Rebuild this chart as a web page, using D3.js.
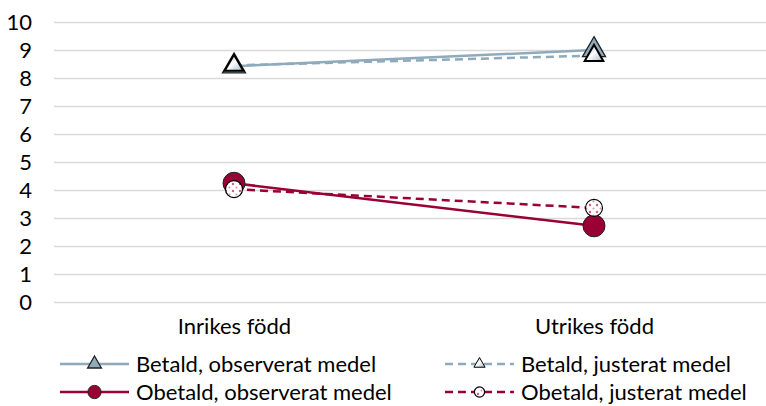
<!doctype html>
<html lang='sv'>
<head>
<meta charset='UTF-8'>
<title>Betald / obetald</title>
<script src='https://cdn.jsdelivr.net/npm/d3@7'></script>
<style>
  body { margin: 0; background: #fff; }
  text { font-family: Lato, 'Open Sans', sans-serif; fill: #000; }
</style>
</head>
<body>
<div id='chart'></div>
<script>
// kategorier och värden
const categories = ['Inrikes född', 'Utrikes född'];
const betaldObs = [8.42, 9.0];
const betaldJust = [8.45, 8.8];
const obetaldObs = [4.24, 2.72];
const obetaldJust = [4.03, 3.36];
const yTicks = [0, 1, 2, 3, 4, 5, 6, 7, 8, 9, 10];

const W = 766, H = 406;
const M = { left: 54, right: -8, top: 22, bottom: 104 };
const BLUE = '#8eaabb', RED = '#990033';
const FS = 22;

const series = [
  { name: 'Betald, observerat medel', values: betaldObs, color: BLUE, dash: null, marker: 'triObs' },
  { name: 'Betald, justerat medel', values: betaldJust, color: BLUE, dash: '8,5', marker: 'triJust' },
  { name: 'Obetald, observerat medel', values: obetaldObs, color: RED, dash: null, marker: 'circObs' },
  { name: 'Obetald, justerat medel', values: obetaldJust, color: RED, dash: '8,5', marker: 'circJust' }
];

const svg = d3.select('#chart').append('svg').attr('width', W).attr('height', H);

const defs = svg.append('defs');
const tg = defs.append('linearGradient').attr('id', 'triGrad').attr('x1', 0).attr('y1', 0).attr('x2', 1).attr('y2', 1);
tg.append('stop').attr('offset', '0%').attr('stop-color', '#7f9cae');
tg.append('stop').attr('offset', '50%').attr('stop-color', '#ffffff');
tg.append('stop').attr('offset', '100%').attr('stop-color', '#9fb6c4');
const pat = defs.append('pattern').attr('id', 'dots').attr('patternUnits', 'userSpaceOnUse')
  .attr('width', 7).attr('height', 7);
pat.append('rect').attr('width', 7).attr('height', 7).attr('fill', '#fff');
pat.append('circle').attr('cx', 2).attr('cy', 2).attr('r', 1.2).attr('fill', '#d0607f');
pat.append('circle').attr('cx', 5.5).attr('cy', 5.5).attr('r', 1).attr('fill', '#e090a8');

const x = d3.scalePoint().domain(categories).range([M.left, W - M.right]).padding(0.5);
const y = d3.scaleLinear().domain([0, 10]).range([H - M.bottom, M.top]);

// rutnät
svg.append('g')
  .attr('transform', 'translate(' + M.left + ',0)')
  .call(d3.axisLeft(y).tickValues(yTicks).tickSize(-(W - M.left)).tickPadding(22))
  .call(g => g.select('.domain').remove())
  .call(g => g.selectAll('line').attr('stroke', '#d9d9d9').attr('stroke-width', 1.5))
  .call(g => g.selectAll('text').attr('font-size', FS).style('font-family', 'Lato, sans-serif'));

// kategoriaxel
svg.append('g')
  .attr('transform', 'translate(0,' + (H - M.bottom) + ')')
  .call(d3.axisBottom(x).tickSize(0).tickPadding(16))
  .call(g => g.select('.domain').remove())
  .call(g => g.selectAll('text').attr('font-size', FS).style('font-family', 'Lato, sans-serif'));

function drawMarker(g, type, cx, cy, small) {
  const k = small ? 0.6 : 1;
  if (type === 'triObs') {
    g.append('path').attr('transform', 'translate(' + cx + ',' + cy + ')')
      .attr('d', d3.symbol(d3.symbolTriangle, 230 * k * k)())
      .attr('fill', '#8eaabb').attr('stroke', '#222').attr('stroke-width', 1.3);
  } else if (type === 'triJust') {
    g.append('path').attr('transform', 'translate(' + cx + ',' + cy + ')')
      .attr('d', d3.symbol(d3.symbolTriangle, 150 * k * k)())
      .attr('fill', 'url(#triGrad)').attr('stroke', '#000').attr('stroke-width', small ? 1 : 2);
  } else if (type === 'circObs') {
    g.append('circle').attr('cx', cx).attr('cy', cy).attr('r', 11 * k)
      .attr('fill', RED).attr('stroke', '#222').attr('stroke-width', 1);
  } else {
    g.append('circle').attr('cx', cx).attr('cy', cy).attr('r', 8.5 * k)
      .attr('fill', 'url(#dots)').attr('stroke', '#000').attr('stroke-width', 1.2);
  }
}

const line = d3.line().x((d, i) => x(categories[i])).y(d => y(d));

series.forEach(s => {
  svg.append('path')
    .attr('d', line(s.values))
    .attr('fill', 'none')
    .attr('stroke', s.color)
    .attr('stroke-width', 2.5)
    .attr('stroke-dasharray', s.dash);
});

const marks = svg.append('g');
series.forEach(s => {
  s.values.forEach((v, i) => drawMarker(marks, s.marker, x(categories[i]), y(v), false));
});

// teckenförklaring
const legendPos = [[60, 364], [445, 364], [60, 392], [445, 392]];
series.forEach((s, i) => {
  const [lx, ly] = legendPos[i];
  const g = svg.append('g');
  g.append('line').attr('x1', lx).attr('x2', lx + 69).attr('y1', ly).attr('y2', ly)
    .attr('stroke', s.color).attr('stroke-width', 2.5).attr('stroke-dasharray', s.dash);
  drawMarker(g, s.marker, lx + 34.5, ly, true);
  g.append('text').attr('x', lx + 76).attr('y', ly).attr('dy', '0.35em')
    .attr('font-size', FS).text(s.name);
});
</script>
</body>
</html>
